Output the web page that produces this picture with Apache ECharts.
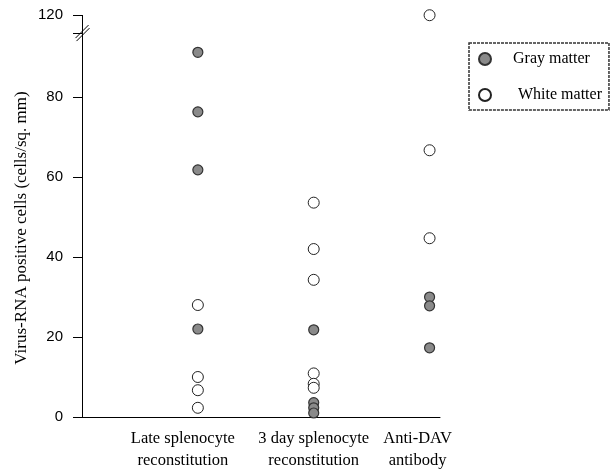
<!DOCTYPE html>
<html><head><meta charset="utf-8">
<script src="https://cdn.jsdelivr.net/npm/echarts@6/dist/echarts.min.js"></script>
<style>html,body{margin:0;padding:0;background:#fff}#c{width:615px;height:469px}</style>
</head><body><div id="c"></div>
<script>
const groups = ['Late splenocyte\nreconstitution', '3 day splenocyte\nreconstitution', 'Anti-DAV\nantibody'];
const groupPos = [1, 2, 3];
const grayLate = [91.2, 76.3, 61.8, 22.0];
const grayDay3 = [21.8, 3.6, 2.3, 1.0];
const grayAnti = [30.0, 27.8, 17.3];
const whiteLate = [28.0, 10.0, 6.7, 2.3];
const whiteDay3 = [53.6, 42.0, 34.3, 10.9, 8.3, 7.3];
const whiteAnti = [119.7, 66.7, 44.7];
const yTicks = [0, 20, 40, 60, 80, 120];

function pts(x, arr){ return arr.map(v => [x, v]); }
const grayData = [].concat(pts(groupPos[0], grayLate), pts(groupPos[1], grayDay3), pts(groupPos[2], grayAnti));
const whiteData = [].concat(pts(groupPos[0], whiteLate), pts(groupPos[1], whiteDay3), pts(groupPos[2], whiteAnti));

const serif = 'Liberation Serif';
const chart = echarts.init(document.getElementById('c'), null, {renderer: 'canvas'});
const shifts = [-15, 0, -12];
const rich = {};
shifts.forEach((s, i) => {
  rich['g' + i] = {fontFamily: serif, fontSize: 16.5, color: '#000', lineHeight: 22, align: 'center',
    padding: s < 0 ? [0, -2 * s, 0, 0] : [0, 0, 0, 2 * s]};
});
chart.setOption({
  animation: false,
  grid: {left: 82, right: 175, top: 15, bottom: 52, outerBoundsMode: 'none', containLabel: false},
  xAxis: {
    type: 'value', min: 0, max: 3.09, interval: 1,
    axisLine: {show: true, onZero: false, lineStyle: {color: '#000', width: 1}},
    axisTick: {show: false},
    splitLine: {show: false},
    axisLabel: {
      margin: 11, showMinLabel: false, showMaxLabel: false,
      formatter: v => {
        const i = groupPos.indexOf(Math.round(v));
        if (i < 0 || Math.abs(v - Math.round(v)) > 1e-6) return '';
        return groups[i].split('\n').map(t => '{g' + i + '|' + t + '}').join('\n');
      },
      rich: rich
    }
  },
  yAxis: {
    type: 'value', min: 0, max: 120, interval: 20,
    breaks: [{start: 96, end: 120, gap: '4.5%'}],
    breakArea: {show: false},
    name: 'Virus-RNA positive cells (cells/sq. mm)',
    nameLocation: 'middle', nameGap: 52, nameRotate: 90, nameMoveOverlap: false,
    nameTextStyle: {fontFamily: serif, fontSize: 17, color: '#000', padding: [0, 24, 0, 0]},
    axisLine: {show: true, lineStyle: {color: '#000', width: 1}},
    axisTick: {show: true, length: 9, lineStyle: {color: '#000'}},
    splitLine: {show: false},
    axisLabel: {
      margin: 19, fontFamily: 'Liberation Sans', fontSize: 15, color: '#000',
      showMaxLabel: true, hideOverlap: false,
      formatter: v => yTicks.indexOf(v) >= 0 ? String(v) : ''
    }
  },
  legend: {
    orient: 'vertical', left: 469, top: 43,
    padding: [8, 7, 7, 9], itemGap: 20,
    borderColor: '#333', borderWidth: 1.5, borderType: [3, 1],
    itemWidth: 12, itemHeight: 12,
    formatter: n => (n === 'White matter' ? '{w|' : '{g|') + n + '}',
    textStyle: {fontFamily: serif, fontSize: 16, color: '#000', lineHeight: 16,
      rich: {
        g: {fontFamily: serif, fontSize: 16, color: '#000', padding: [0, 0, 0, 17]},
        w: {fontFamily: serif, fontSize: 16, color: '#000', padding: [0, 0, 0, 22]}
      }},
    data: [{name: 'Gray matter', icon: 'circle'}, {name: 'White matter', icon: 'circle'}]
  },
  series: [
    {name: 'White matter', type: 'scatter', data: whiteData, symbol: 'circle', symbolSize: 11, z: 2,
      itemStyle: {color: '#fff', borderColor: '#222', borderWidth: 1, opacity: 1}},
    {name: 'Gray matter', type: 'scatter', data: grayData, symbol: 'circle', symbolSize: 10, z: 3,
      itemStyle: {color: '#8a8a8a', borderColor: '#333', borderWidth: 1.2, opacity: 1}}
  ]
});
const pBreak = chart.convertToPixel({gridIndex: 0}, [0, 96]);
const pTop = chart.convertToPixel({gridIndex: 0}, [0, 120]);
const cx = Math.round(pBreak[0]) + 0.5, cy = pBreak[1];
chart.setOption({graphic: [
  {type: 'line', shape: {x1: cx, y1: pTop[1], x2: cx, y2: cy}, style: {stroke: '#000', lineWidth: 1}, z: 100},
  {type: 'line', shape: {x1: cx - 7, y1: cy + 5, x2: cx + 6, y2: cy - 8}, style: {stroke: '#000', lineWidth: 1}, z: 101},
  {type: 'line', shape: {x1: cx - 6, y1: cy + 8, x2: cx + 7, y2: cy - 5}, style: {stroke: '#000', lineWidth: 1}, z: 101}
]});
</script></body></html>
